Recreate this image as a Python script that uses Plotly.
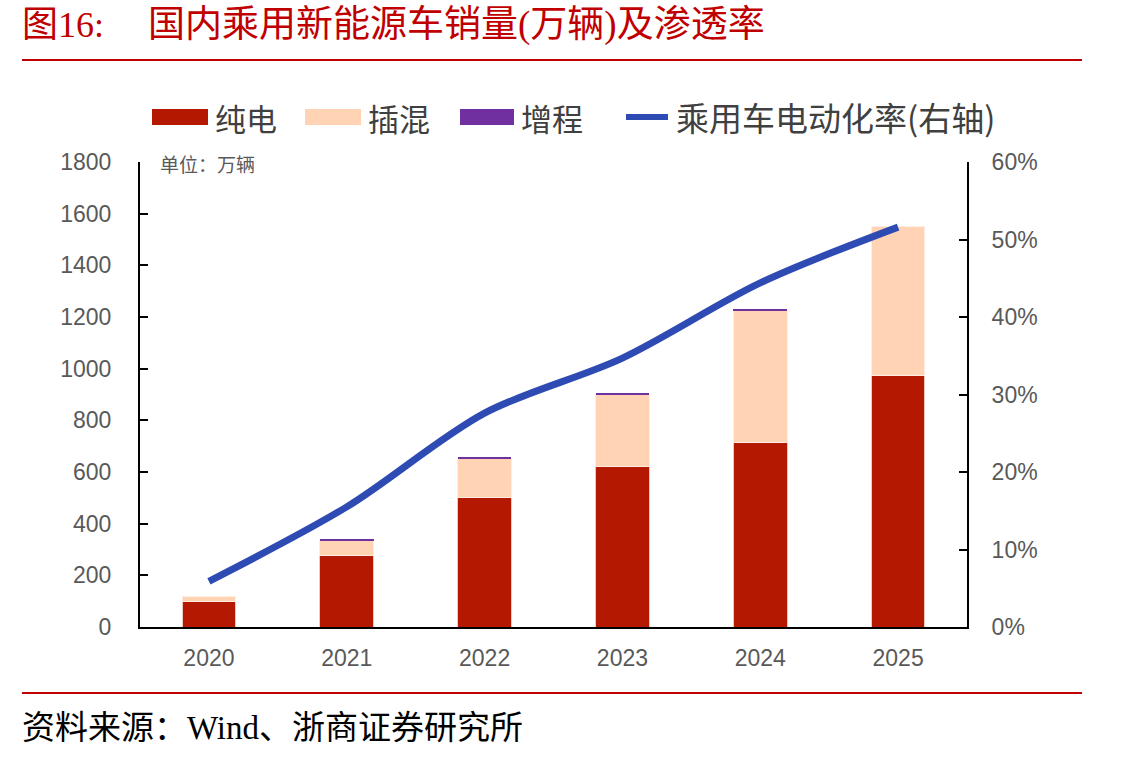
import plotly.graph_objects as go

years = ["2020", "2021", "2022", "2023", "2024", "2025"]
bev = [97, 275, 500, 620, 716, 973]
phev = [20, 58, 151, 280, 508, 577]
erev = [0, 5, 5, 6, 7, 0]
penetration = [0.059, 0.155, 0.276, 0.347, 0.444, 0.516]

left_ticks = list(range(0, 1801, 200))
right_ticks = [0, 0.1, 0.2, 0.3, 0.4, 0.5, 0.6]

C_BEV = "#B41800"
C_PHEV = "#FFD3B4"
C_EREV = "#7030A0"
C_LINE = "#2E4BB4"
C_RED = "#C00000"
CJK = "Noto Sans CJK SC"
SERIF_CJK = "Liberation Serif, Noto Sans CJK SC"
NUM = "Liberation Sans, Arial"
GRAY = "#595959"

W, H = 1140, 762
L, R, T, B = 140, 967, 162, 627

def px(x):
    return (x - L) / (R - L)

def py(y):
    return (B - y) / (B - T)

fig = go.Figure()
fig.add_trace(go.Bar(x=years, y=bev, name="纯电", marker=dict(color=C_BEV, line=dict(color="#F2C7BE", width=1)), showlegend=False))
fig.add_trace(go.Bar(x=years, y=phev, name="插混", marker=dict(color=C_PHEV, line=dict(color="#FFEDE2", width=1)), showlegend=False))
fig.add_trace(go.Bar(x=years, y=erev, name="增程", marker=dict(color=C_EREV, line=dict(width=0)), showlegend=False))
fig.add_trace(go.Scatter(x=years, y=penetration, name="乘用车电动化率(右轴)", mode="lines",
                         line=dict(color=C_LINE, width=7, shape="spline", smoothing=0.9),
                         yaxis="y2", showlegend=False))

fig.update_layout(
    width=W, height=H,
    margin=dict(l=L, r=W - R, t=T, b=H - B, pad=0),
    paper_bgcolor="white", plot_bgcolor="white",
    barmode="stack", bargap=0.61,
    xaxis=dict(showline=True, linecolor="black", linewidth=2, ticks="", showgrid=False,
               tickfont=dict(family=NUM, size=23, color=GRAY), ticklabelstandoff=9,
               range=[-0.5, 5.5], zeroline=False),
    yaxis=dict(range=[0, 1800], tickvals=left_ticks, showline=True, linecolor="black", linewidth=2,
               ticks="inside", ticklen=8, tickwidth=2, tickcolor="black", showgrid=False, zeroline=False,
               tickfont=dict(family=NUM, size=23, color=GRAY), ticklabelstandoff=22),
    yaxis2=dict(range=[0, 0.6], tickvals=right_ticks, tickformat=".0%", overlaying="y", side="right",
                showline=True, linecolor="black", linewidth=2, ticks="inside", ticklen=8, tickwidth=2,
                tickcolor="black", showgrid=False, zeroline=False,
                tickfont=dict(family=NUM, size=23, color=GRAY), ticklabelstandoff=18),
    showlegend=False,
)

shapes = [
    dict(type="line", xref="paper", yref="paper", x0=px(22), x1=px(1082), y0=py(60), y1=py(60),
         line=dict(color=C_RED, width=2)),
    dict(type="line", xref="paper", yref="paper", x0=px(22), x1=px(1082), y0=py(693), y1=py(693),
         line=dict(color=C_RED, width=2)),
]
annotations = [
    dict(text="图16:", xref="paper", yref="paper", x=px(20), y=py(25),
         xanchor="left", yanchor="middle", showarrow=False, font=dict(family=SERIF_CJK, size=36, color=C_RED)),
    dict(text="国内乘用新能源车销量(万辆)及渗透率", xref="paper", yref="paper", x=px(146), y=py(25),
         xanchor="left", yanchor="middle", showarrow=False, font=dict(family=SERIF_CJK, size=37, color=C_RED)),
    dict(text="资料来源：Wind、浙商证券研究所", xref="paper", yref="paper", x=px(20), y=py(728),
         xanchor="left", yanchor="middle", showarrow=False, font=dict(family=SERIF_CJK, size=33, color="black")),
    dict(text="单位：万辆", xref="paper", yref="paper", x=px(158), y=py(163),
         xanchor="left", yanchor="middle", showarrow=False, font=dict(family=CJK, size=19, color=GRAY)),
]

# custom legend
legend_items = [
    ("rect", C_BEV, 152, 208, "纯电", 213),
    ("rect", C_PHEV, 305, 361, "插混", 366),
    ("rect", C_EREV, 460, 514, "增程", 519),
    ("line", C_LINE, 626, 668, "乘用车电动化率(右轴)", 674),
]
ly = 117
for kind, col, x0, x1, label, tx in legend_items:
    if kind == "rect":
        shapes.append(dict(type="rect", xref="paper", yref="paper", x0=px(x0), x1=px(x1),
                           y0=py(ly + 8), y1=py(ly - 8), fillcolor=col, line=dict(width=0)))
    else:
        shapes.append(dict(type="line", xref="paper", yref="paper", x0=px(x0), x1=px(x1),
                           y0=py(ly), y1=py(ly), line=dict(color=col, width=6)))
    size = 33 if kind == "line" else 31
    annotations.append(dict(text=label, xref="paper", yref="paper", x=px(tx), y=py(ly),
                            xanchor="left", yanchor="middle", showarrow=False,
                            font=dict(family=CJK, size=size, color="#404040")))

fig.update_layout(shapes=shapes, annotations=annotations)
fig.write_html("out.html")
